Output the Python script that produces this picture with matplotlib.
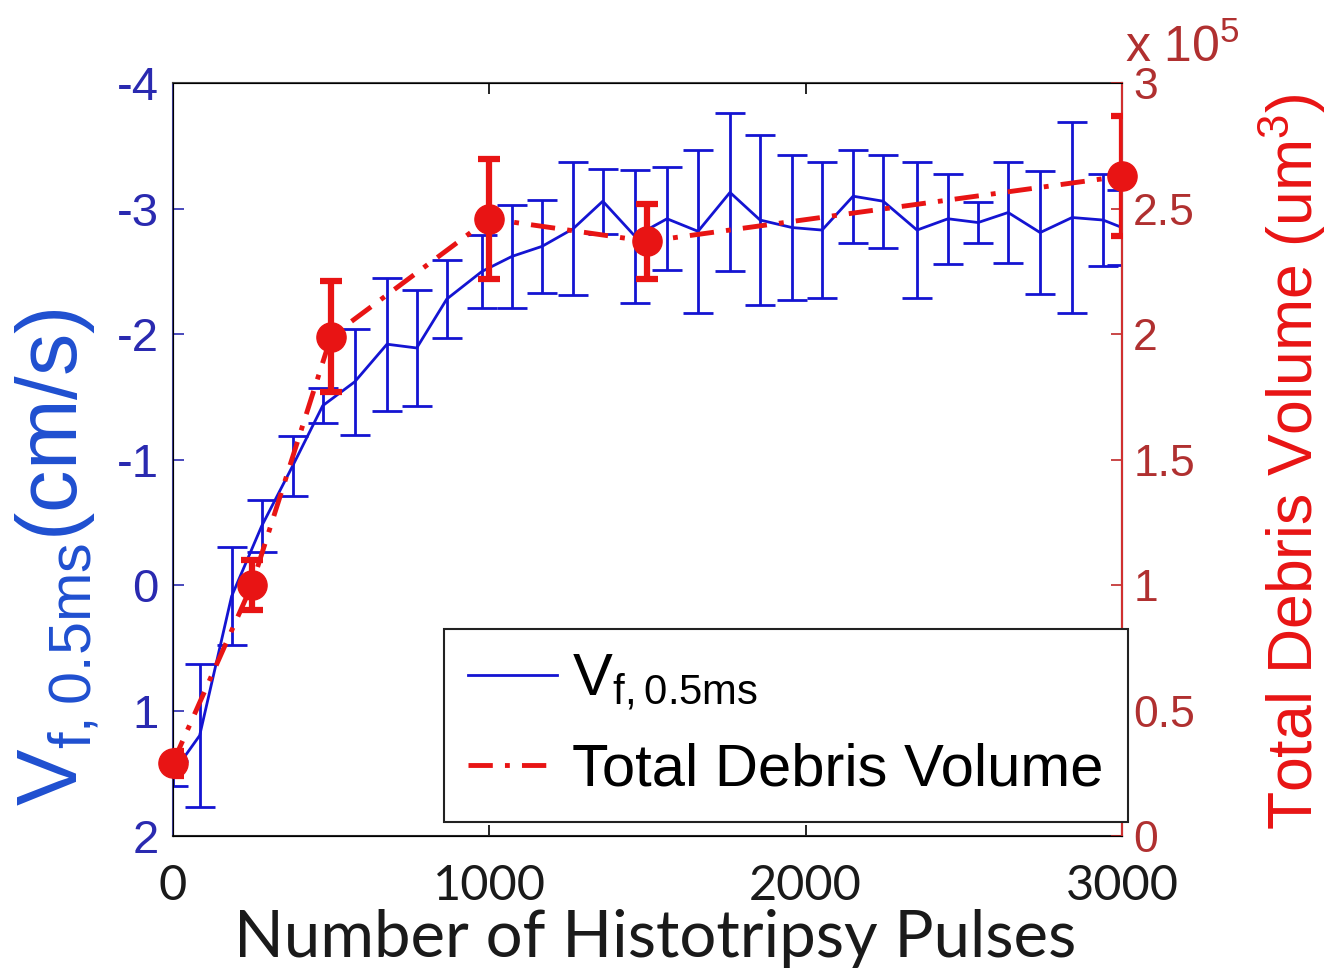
import matplotlib
matplotlib.use("Agg")
import matplotlib.pyplot as plt
from matplotlib.lines import Line2D
from matplotlib.ticker import FuncFormatter

plt.rcParams["axes.unicode_minus"] = False
plt.rcParams["mathtext.fontset"] = "custom"
plt.rcParams["mathtext.rm"] = "Liberation Sans"

# blue series: flow velocity (left axis, inverted)
vel_pulses = [0, 85, 186, 281, 379, 474, 575, 677, 771, 866, 977, 1072, 1167, 1265, 1359,
              1461, 1562, 1660, 1761, 1856, 1957, 2052, 2150, 2245, 2352, 2450, 2545,
              2640, 2741, 2842, 2940, 3000]
vel_mean = [1.50, 1.20, 0.09, -0.47, -0.95, -1.43, -1.62, -1.92, -1.89, -2.28, -2.50, -2.62,
            -2.70, -2.84, -3.06, -2.78, -2.92, -2.82, -3.13, -2.91, -2.85, -2.83, -3.10,
            -3.06, -2.83, -2.92, -2.89, -2.97, -2.81, -2.93, -2.91, -2.85]
vel_err = [0.10, 0.57, 0.39, 0.21, 0.24, 0.14, 0.42, 0.53, 0.46, 0.31, 0.29, 0.41, 0.37,
           0.53, 0.26, 0.53, 0.41, 0.65, 0.63, 0.68, 0.58, 0.54, 0.37, 0.37, 0.54, 0.36,
           0.16, 0.40, 0.49, 0.76, 0.37, 0.30]

# red series: debris volume (right axis, um^3)
deb_pulses = [0, 250, 500, 1000, 1500, 3000]
deb_vol = [0.29e5, 1.00e5, 1.99e5, 2.46e5, 2.37e5, 2.63e5]
deb_err = [0.05e5, 0.10e5, 0.22e5, 0.24e5, 0.15e5, 0.24e5]

xticks = [0, 1000, 2000, 3000]
left_ticks = [-4, -3, -2, -1, 0, 1, 2]
right_ticks = [0, 0.5e5, 1e5, 1.5e5, 2e5, 2.5e5, 3e5]

BLUE = "#1414d2"
RED = "#e81414"
ARIAL = "Liberation Sans"
CALIBRI = "Lato"
DASHDOT = (5, 2.5, 1, 2.5)

fig = plt.figure(figsize=(13.39, 9.8), dpi=100)
ax = fig.add_axes([0.129, 0.147, 0.709, 0.768])

ax.errorbar(vel_pulses, vel_mean, yerr=vel_err, color=BLUE, lw=2.0, elinewidth=2.0,
            capsize=11, capthick=2.0, zorder=2)
ax.set_xlim(0, 3000)
ax.set_ylim(2, -4)
ax.set_xticks(xticks)
ax.set_yticks(left_ticks)
ax.tick_params(axis="x", direction="in", length=8, width=1.2, pad=20, labelsize=35,
               labelcolor="#1a1a1a", top=True)
ax.tick_params(axis="y", direction="in", length=8, width=1.2, pad=10, labelsize=34,
               labelcolor="#2a2ab0", colors="#2a2ab0")
for lab in ax.get_xticklabels():
    lab.set_fontfamily(CALIBRI)
for lab in ax.get_yticklabels():
    lab.set_fontfamily(ARIAL)
ax.spines["left"].set_color("#3a3a90")
ax.spines["top"].set_color("#444444")
ax.spines["bottom"].set_color("#222222")
for s in ax.spines.values():
    s.set_linewidth(1.5)

ax2 = ax.twinx()
ax2.errorbar(deb_pulses, deb_vol, yerr=deb_err, fmt="none", ecolor=RED, elinewidth=4.5,
             capsize=8, capthick=4.5, zorder=3)
ax2.plot(deb_pulses, deb_vol, color=RED, lw=3.5, dashes=DASHDOT, zorder=3)
ax2.plot(deb_pulses, deb_vol, "o", color=RED, ms=21, zorder=4, clip_on=False)
ax2.set_ylim(0, 3e5)
ax2.set_yticks(right_ticks)
ax2.yaxis.set_major_formatter(FuncFormatter(lambda v, p: f"{v / 1e5:g}"))
ax2.tick_params(axis="y", direction="in", length=8, width=1.2, pad=8, labelsize=32,
                colors="#c02828", labelcolor="#b03030")
for lab in ax2.get_yticklabels():
    lab.set_fontfamily(ARIAL)
ax2.spines["right"].set_color("#d03030")
ax2.spines["right"].set_linewidth(1.5)

# axis titles placed by hand, like the original
fig.text(0.489, 0.042, "Number of Histotripsy Pulses", fontsize=47, family=CALIBRI,
         color="#1a1a1a", ha="center", va="center")
fig.text(0.043, 0.432, r"V$_{\mathrm{f, 0.5ms}}$(cm/s)", fontsize=61, family=ARIAL,
         color="#1f4fd0", rotation=90, ha="center", va="center")
fig.text(0.965, 0.529, r"Total Debris Volume (um$^{\mathrm{3}}$)", fontsize=45, family=ARIAL,
         color=RED, rotation=90, ha="center", va="center")
fig.text(0.840, 0.937, r"x 10$^{\mathrm{5}}$", fontsize=36, family=ARIAL, color="#b03030",
         va="baseline", ha="left")

handles = [Line2D([], [], color=BLUE, lw=2.0),
           Line2D([], [], color=RED, lw=3.5, dashes=DASHDOT)]
leg = ax2.legend(handles, [r"V$_{\mathrm{f, 0.5ms}}$", "Total Debris Volume"],
                 loc="lower right", bbox_to_anchor=(1.006, 0.019), fancybox=False,
                 framealpha=1, edgecolor="#222222", handlelength=1.5, handletextpad=0.25,
                 borderpad=0.4, labelspacing=0.5, borderaxespad=0,
                 prop={"family": ARIAL, "size": 43})
leg.get_frame().set_linewidth(1.5)

fig.savefig("out.png", dpi=100)
